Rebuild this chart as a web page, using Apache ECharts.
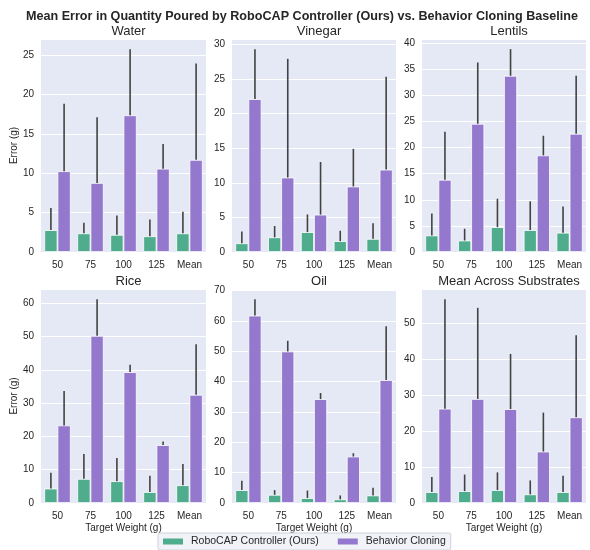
<!DOCTYPE html>
<html>
<head>
<meta charset="utf-8">
<script src="https://cdn.jsdelivr.net/npm/echarts@6/dist/echarts.min.js"></script>
<style>html,body{margin:0;padding:0;background:#fff}#c{width:590px;height:550px}</style>
</head>
<body>
<div id="c"></div>
<script>
const categories = ['50', '75', '100', '125', 'Mean'];
const panelTitles = ['Water', 'Vinegar', 'Lentils', 'Rice', 'Oil', 'Mean Across Substrates'];
const seriesNames = ['RoboCAP Controller (Ours)', 'Behavior Cloning'];
const yIntervals = [5, 5, 5, 10, 10, 10];

// values and upper error-bar ends (g)
const waterRobo = [2.78, 2.37, 2.18, 2.0, 2.37];
const waterRoboUp = [5.6, 3.7, 4.63, 4.12, 5.12];
const waterBC = [10.26, 8.77, 17.36, 10.58, 11.7];
const waterBCUp = [18.83, 17.1, 25.76, 13.72, 23.94];

const vinegarRobo = [1.26, 2.12, 2.87, 1.57, 1.9];
const vinegarRoboUp = [2.96, 3.75, 5.42, 3.06, 4.15];
const vinegarBC = [22.1, 10.76, 5.4, 9.46, 11.9];
const vinegarBCUp = [29.3, 27.9, 13.0, 14.9, 25.3];

const lentilsRobo = [3.17, 2.2, 4.76, 4.2, 3.7];
const lentilsRoboUp = [7.37, 4.45, 10.2, 9.7, 8.7];
const lentilsBC = [13.84, 24.56, 33.75, 18.5, 22.65];
const lentilsBCUp = [23.03, 36.3, 38.85, 22.26, 33.75];

const riceRobo = [4.33, 7.25, 6.55, 3.3, 5.34];
const riceRoboUp = [9.06, 14.7, 13.5, 8.16, 11.7];
const riceBC = [23.3, 50.2, 39.3, 17.4, 32.5];
const riceBCUp = [33.6, 61.2, 41.5, 18.5, 47.7];

const oilRobo = [4.24, 2.7, 1.63, 1.2, 2.5];
const oilRoboUp = [7.3, 4.24, 4.1, 2.5, 5.0];
const oilBC = [61.7, 49.9, 34.2, 15.3, 40.5];
const oilBCUp = [67.1, 53.4, 36.2, 16.4, 58.2];

const meanRobo = [3.04, 3.3, 3.6, 2.4, 3.04];
const meanRoboUp = [7.2, 7.9, 8.5, 6.27, 7.56];
const meanBC = [26.2, 28.9, 26.1, 14.3, 23.8];
const meanBCUp = [56.6, 54.2, 41.4, 25.1, 46.6];

const panelData = [
  [waterRobo, waterRoboUp, waterBC, waterBCUp],
  [vinegarRobo, vinegarRoboUp, vinegarBC, vinegarBCUp],
  [lentilsRobo, lentilsRoboUp, lentilsBC, lentilsBCUp],
  [riceRobo, riceRoboUp, riceBC, riceBCUp],
  [oilRobo, oilRoboUp, oilBC, oilBCUp],
  [meanRobo, meanRoboUp, meanBC, meanBCUp]
];

const FONT = '"Liberation Sans", Arial, sans-serif';
const TXT = '#262626';
const GREEN = '#4fac8c';
const PURPLE = '#9378cd';
const BG = '#e5e9f5';

const colLeft = [41, 232, 422];
const colWidth = [165, 164, 164];
const rowTop = [39, 289];
const rowHeight = [213, 214];

const grids = [], xAxes = [], yAxes = [], series = [];
const titles = [{
  text: 'Mean Error in Quantity Poured by RoboCAP Controller (Ours) vs. Behavior Cloning Baseline',
  left: 297, top: 5, textAlign: 'center',
  textStyle: {fontFamily: FONT, fontSize: 12.6, fontWeight: 'bold', color: TXT}
}];

function renderErr(params, api) {
  const x = api.value(0), v = api.value(1), up = api.value(2), h = api.value(3);
  const p0 = api.coord([x, v]);
  const p1 = api.coord([x, up]);
  const bw = api.size([1, 0])[0] * 0.4;
  const cx = p0[0] + (h === 0 ? -bw / 2 : bw / 2);
  return {
    type: 'line',
    shape: {x1: cx, y1: p0[1], x2: cx, y2: p1[1]},
    style: {stroke: '#424242', lineWidth: 1.6}
  };
}

for (let i = 0; i < 6; i++) {
  const r = Math.floor(i / 3), c = i % 3;
  const [robo, roboUp, bc, bcUp] = panelData[i];
  const ymax = Math.max(...roboUp, ...bcUp) * 1.05;
  grids.push({left: colLeft[c], top: rowTop[r], width: colWidth[c], height: rowHeight[r],
    backgroundColor: BG, show: true, borderWidth: 0, containLabel: false});
  titles.push({
    text: panelTitles[i], left: colLeft[c] + colWidth[c] / 2, top: rowTop[r] - 19, textAlign: 'center',
    textStyle: {fontFamily: FONT, fontSize: 13, fontWeight: 'normal', color: TXT}
  });
  xAxes.push({
    type: 'category', gridIndex: i, data: categories,
    axisLine: {show: false}, axisTick: {show: false}, splitLine: {show: false},
    axisLabel: {fontFamily: FONT, fontSize: 10, color: TXT, margin: 8, interval: 0},
    name: r === 1 ? 'Target Weight (g)' : '', nameLocation: 'middle', nameGap: 20,
    nameTextStyle: {fontFamily: FONT, fontSize: 10, color: TXT}
  });
  yAxes.push({
    type: 'value', gridIndex: i, min: 0, max: ymax, interval: yIntervals[i],
    axisLine: {show: false}, axisTick: {show: false},
    splitLine: {show: true, lineStyle: {color: '#ffffff', width: 1}},
    axisLabel: {fontFamily: FONT, fontSize: 10, color: TXT, margin: 7, showMaxLabel: false},
    name: c === 0 ? 'Error (g)' : '', nameLocation: 'middle', nameGap: 22, nameRotate: 90,
    nameTextStyle: {fontFamily: FONT, fontSize: 10, color: TXT}
  });
  series.push({
    name: seriesNames[0], type: 'bar', xAxisIndex: i, yAxisIndex: i, data: robo,
    barWidth: '40%', barGap: '0%',
    itemStyle: {color: GREEN, borderColor: '#ffffff', borderWidth: 0.8}
  });
  series.push({
    name: seriesNames[1], type: 'bar', xAxisIndex: i, yAxisIndex: i, data: bc,
    barWidth: '40%', barGap: '0%',
    itemStyle: {color: PURPLE, borderColor: '#ffffff', borderWidth: 0.8}
  });
  const errData = [];
  categories.forEach((_, k) => {
    errData.push([k, robo[k], roboUp[k], 0]);
    errData.push([k, bc[k], bcUp[k], 1]);
  });
  series.push({
    type: 'custom', xAxisIndex: i, yAxisIndex: i, renderItem: renderErr,
    data: errData, encode: {x: 0, y: [1, 2]}, z: 5, silent: true
  });
}

const chart = echarts.init(document.getElementById('c'), null, {renderer: 'canvas'});
chart.setOption({
  animation: false,
  backgroundColor: '#ffffff',
  title: titles,
  grid: grids,
  xAxis: xAxes,
  yAxis: yAxes,
  legend: {
    data: seriesNames, left: 158, top: 533, orient: 'horizontal',
    itemWidth: 20, itemHeight: 6, itemGap: 19, icon: 'rect',
    padding: [3, 5, 3, 5],
    backgroundColor: '#f1f3f9', borderColor: '#cfd2da', borderWidth: 1, borderRadius: 2,
    itemStyle: {borderWidth: 0},
    textStyle: {fontFamily: FONT, fontSize: 10.5, color: TXT, padding: [0, 0, 0, 3]}
  },
  series: series
});
</script>
</body>
</html>
